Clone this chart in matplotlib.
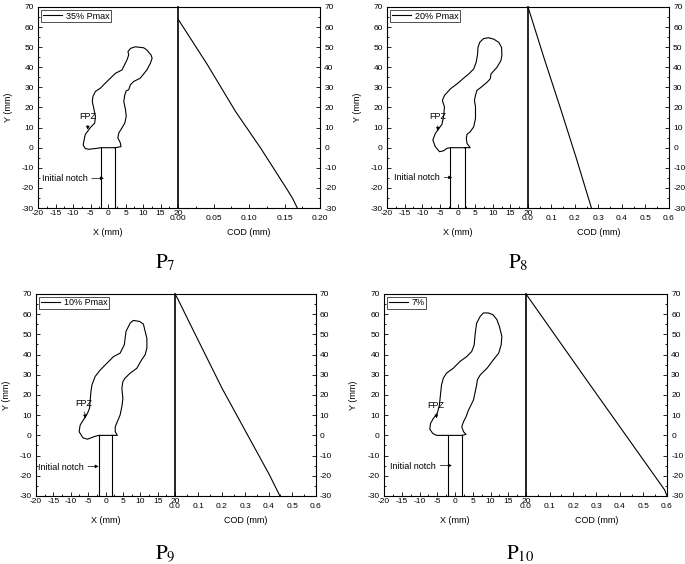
import matplotlib
matplotlib.use('Agg')
import matplotlib.pyplot as plt
from matplotlib.ticker import MultipleLocator, FormatStrFormatter

plt.rcParams['font.family'] = ['Liberation Sans', 'DejaVu Sans']
plt.rcParams['mathtext.fontset'] = 'stix'
plt.rcParams['axes.unicode_minus'] = False

# ---- data ----
panel_names = [r'$\mathrm{P}_{7}$', r'$\mathrm{P}_{8}$', r'$\mathrm{P}_{9}$', r'$\mathrm{P}_{10}$']
legend_labels = ['35% Pmax', '20% Pmax', '10% Pmax', '7%']
cod_max = [0.20, 0.6, 0.6, 0.6]
cod_step = [0.05, 0.1, 0.1, 0.1]
cod_fmt = ['%.2f', '%.1f', '%.1f', '%.1f']

notch_x = [-2.0, 2.0]
notch_y = [-30.0, 0.0]

# P7 FPZ outline
p7_fpz_x = [2.0, 3.7, 3.5, 2.8, 3.1, 4.0, 4.8, 5.2, 5.0, 4.5, 4.8, 5.2, 5.9, 6.4, 7.3, 9.2, 11.1, 12.1, 12.6, 12.3,
            11.1, 10.2, 7.8, 6.4, 5.7, 5.9, 5.4, 4.7, 4.0, 2.1, 0.7, -0.5, -2.2, -3.6, -4.3, -4.5, -4.1, -3.6, -3.8, -5.1,
            -5.8, -6.5, -6.8, -7.1, -6.5, -5.5, -3.6, -2.0, 2.0]
p7_fpz_y = [0.0, 0.5, 2.5, 4.9, 7.4, 9.9, 12.3, 15.6, 18.9, 23.0, 26.3, 28.3, 28.8, 31.3, 32.9, 34.6, 38.7, 42.0, 44.5, 46.1,
            48.6, 49.7, 50.2, 49.4, 47.8, 46.1, 43.6, 41.2, 38.7, 37.0, 34.6, 32.6, 29.6, 28.0, 25.5, 23.0, 19.8, 15.6, 12.3, 9.9,
            8.2, 6.6, 4.1, 1.3, -0.4, -0.8, -0.4, 0.0, 0.0]
p7_cod_x = [0.0, 0.041, 0.081, 0.116, 0.154, 0.161, 0.168]
p7_cod_y = [64.0, 41.5, 18.0, 0.0, -21.0, -25.0, -30.0]

# P8 FPZ outline
p8_fpz_x = [2.0, 3.6, 2.7, 2.5, 2.7, 3.6, 4.6, 5.1, 5.1, 4.8, 5.1, 5.5, 6.5, 8.4, 9.3, 9.5, 11.2, 12.3, 12.6, 12.5,
            11.7, 10.3, 8.8, 7.4, 6.3, 5.8, 5.7, 5.3, 4.6, 3.2, 1.8, -0.1, -2.0, -3.7, -4.3, -3.7, -3.9, -4.4, -5.3, -6.3,
            -7.0, -6.3, -5.1, -3.9, -3.0, -2.0, 2.0]
p8_fpz_y = [0.0, 0.0, 2.1, 4.6, 6.7, 7.9, 10.4, 14.5, 20.3, 23.5, 26.0, 28.5, 29.8, 32.6, 34.3, 36.7, 40.0, 43.3, 45.8, 49.9,
            52.4, 54.0, 54.7, 54.3, 52.4, 49.9, 46.6, 42.5, 39.2, 36.7, 34.7, 31.8, 29.3, 26.0, 23.5, 20.3, 16.1, 11.7, 9.5, 7.1,
            3.8, 0.5, -2.0, -1.5, -0.3, 0.0, 0.0]
p8_cod_x = [0.0, 0.070, 0.137, 0.205, 0.270]
p8_cod_y = [70.0, 44.0, 20.0, -5.0, -30.0]

# P9 FPZ outline
p9_fpz_x = [2.0, 3.4, 2.8, 2.8, 3.4, 4.2, 4.7, 5.0, 4.7, 5.0, 5.6, 7.1, 9.0, 10.4, 11.4, 11.9, 11.9, 11.4, 10.9, 9.8,
            8.0, 7.1, 5.9, 5.4, 4.2, 2.3, 0.4, -1.5, -3.0, -3.9, -4.2, -4.4, -4.6, -5.2, -6.1, -7.3, -7.6, -6.5, -5.2, -3.4,
            -2.0, 2.0]
p9_fpz_y = [0.0, 0.0, 1.8, 4.3, 6.8, 10.1, 14.2, 18.3, 23.3, 26.6, 28.3, 30.8, 33.2, 37.4, 39.9, 43.2, 48.1, 51.5, 55.1, 56.4,
            56.9, 55.6, 51.5, 44.8, 40.7, 39.0, 35.7, 32.4, 29.1, 25.0, 21.7, 17.5, 13.4, 10.9, 8.4, 5.1, 1.8, -1.2, -1.9, -0.7,
            0.0, 0.0]
p9_cod_x = [0.0, 0.012, 0.080, 0.200, 0.309, 0.403, 0.448]
p9_cod_y = [70.0, 67.5, 51.5, 23.5, 0.4, -19.5, -30.0]

# P10 FPZ outline
p10_fpz_x = [2.0, 3.1, 2.4, 1.9, 2.4, 3.1, 3.8, 5.2, 5.7, 6.1, 6.3, 7.1, 9.0, 10.8, 12.3, 13.0, 13.2, 12.5, 11.8, 10.7,
             9.4, 8.0, 7.1, 6.1, 5.7, 5.4, 4.7, 3.3, 1.4, -0.5, -2.4, -3.3, -3.8, -4.1, -4.4, -5.0, -6.1, -6.9, -7.1, -6.3,
             -5.2, -2.0, 2.0]
p10_fpz_y = [0.0, 0.5, 1.8, 4.3, 6.8, 9.2, 12.5, 17.5, 21.7, 25.0, 27.5, 29.9, 33.2, 37.4, 40.7, 44.8, 49.0, 53.9, 57.3, 59.7,
             60.6, 60.6, 58.9, 55.6, 50.6, 44.8, 41.5, 39.0, 36.6, 33.2, 30.8, 28.3, 25.0, 20.0, 15.0, 10.9, 8.4, 5.9, 3.1, 1.0,
             0.0, 0.0, 0.0]
p10_cod_x = [0.0, 0.015, 0.255, 0.59, 0.6]
p10_cod_y = [70.0, 67.5, 27.9, -27.0, -30.0]

fpz_x = [p7_fpz_x, p8_fpz_x, p9_fpz_x, p10_fpz_x]
fpz_y = [p7_fpz_y, p8_fpz_y, p9_fpz_y, p10_fpz_y]
cod_x = [p7_cod_x, p8_cod_x, p9_cod_x, p10_cod_x]
cod_y = [p7_cod_y, p8_cod_y, p9_cod_y, p10_cod_y]

# ---- layout (figure fractions) ----
left_rects = [[0.0555, 0.6312, 0.2044, 0.3564], [0.5650, 0.6312, 0.2058, 0.3564],
              [0.0526, 0.1206, 0.2029, 0.3582], [0.5606, 0.1206, 0.2073, 0.3582]]
right_rects = [[0.2599, 0.6312, 0.2073, 0.3564], [0.7708, 0.6312, 0.2058, 0.3564],
               [0.2555, 0.1206, 0.2051, 0.3582], [0.7679, 0.1206, 0.2058, 0.3582]]
name_pos = [(0.241, 0.535), (0.757, 0.535), (0.241, 0.019), (0.760, 0.019)]
fpz_text = [(-8.2, 15.3), (-7.9, 15.3), (-8.7, 15.9), (-7.8, 15.0)]
fpz_tip = [(-5.8, 9.0), (-5.6, 8.4), (-5.8, 8.4), (-5.2, 8.4)]
notch_text = [(-18.9, -15.5), (-17.9, -14.8), (-19.4, -16.0), (-18.2, -15.2)]
notch_tip = [(-1.2, -15.2), (-1.5, -14.8), (-2.0, -15.3), (-0.9, -14.9)]

fs = 6
fig = plt.figure(figsize=(6.85, 5.64), dpi=100)

for i in range(4):
    ax = fig.add_axes(left_rects[i])
    ax.plot(fpz_x[i], fpz_y[i], color='black', lw=0.8, label=legend_labels[i])
    for nx in notch_x:
        ax.plot([nx, nx], notch_y, color='black', lw=0.8)
    ax.set_xlim(-20, 20)
    ax.set_ylim(-30, 70)
    ax.xaxis.set_major_locator(MultipleLocator(5))
    ax.xaxis.set_minor_locator(MultipleLocator(2.5))
    ax.yaxis.set_major_locator(MultipleLocator(10))
    ax.yaxis.set_minor_locator(MultipleLocator(5))
    ax.tick_params(which='both', direction='in', labelsize=fs, top=False, right=False)
    ax.tick_params(which='major', length=3, width=0.6)
    ax.tick_params(which='minor', length=1.5, width=0.6)
    ax.tick_params(axis='x', pad=1.5)
    ax.tick_params(axis='y', pad=3)
    for s in ax.spines.values():
        s.set_linewidth(0.8)
    ax.set_xlabel('X (mm)', fontsize=fs + 0.5)
    ax.set_ylabel('Y (mm)', fontsize=fs + 0.5)
    ax.xaxis.set_label_coords(0.5, -0.10)
    ax.yaxis.set_label_coords(-0.18, 0.5)
    leg = ax.legend(loc='upper left', fontsize=fs + 0.5, frameon=True, fancybox=False,
                    handlelength=2.2, handletextpad=0.4, borderpad=0.15, borderaxespad=0.35)
    leg.get_frame().set_edgecolor('black')
    leg.get_frame().set_linewidth(0.6)
    ax.annotate('FPZ', xy=fpz_tip[i], xytext=fpz_text[i], fontsize=fs + 0.5,
                ha='left', va='center',
                arrowprops=dict(arrowstyle='-|>', color='black', lw=0.5, mutation_scale=5,
                                shrinkA=1, shrinkB=0))
    ax.annotate('Initial notch', xy=notch_tip[i], xytext=notch_text[i], fontsize=fs + 0.5,
                ha='left', va='center',
                arrowprops=dict(arrowstyle='-|>', color='black', lw=0.5, mutation_scale=5,
                                shrinkA=1, shrinkB=0))

    ax2 = fig.add_axes(right_rects[i])
    ax2.plot(cod_x[i], cod_y[i], color='black', lw=0.8)
    ax2.set_xlim(0, cod_max[i])
    ax2.set_ylim(-30, 70)
    ax2.xaxis.set_major_locator(MultipleLocator(cod_step[i]))
    ax2.xaxis.set_minor_locator(MultipleLocator(cod_step[i] / 2))
    ax2.xaxis.set_major_formatter(FormatStrFormatter(cod_fmt[i]))
    ax2.yaxis.set_major_locator(MultipleLocator(10))
    ax2.yaxis.set_minor_locator(MultipleLocator(5))
    ax2.yaxis.tick_right()
    ax2.tick_params(which='both', direction='in', labelsize=fs, top=False, left=False,
                    right=True, labelright=True, labelleft=False)
    ax2.tick_params(which='major', length=3, width=0.6)
    ax2.tick_params(which='minor', length=1.5, width=0.6)
    ax2.tick_params(axis='x', pad=5)
    ax2.tick_params(axis='y', pad=3)
    for s in ax2.spines.values():
        s.set_linewidth(0.8)
    ax2.spines['left'].set_linewidth(1.2)
    ax2.set_xlabel('COD (mm)', fontsize=fs + 0.5)
    ax2.xaxis.set_label_coords(0.5, -0.10)

    fig.text(name_pos[i][0], name_pos[i][1], panel_names[i], fontsize=15,
             ha='center', va='center')

fig.savefig('out.png', dpi=100)
